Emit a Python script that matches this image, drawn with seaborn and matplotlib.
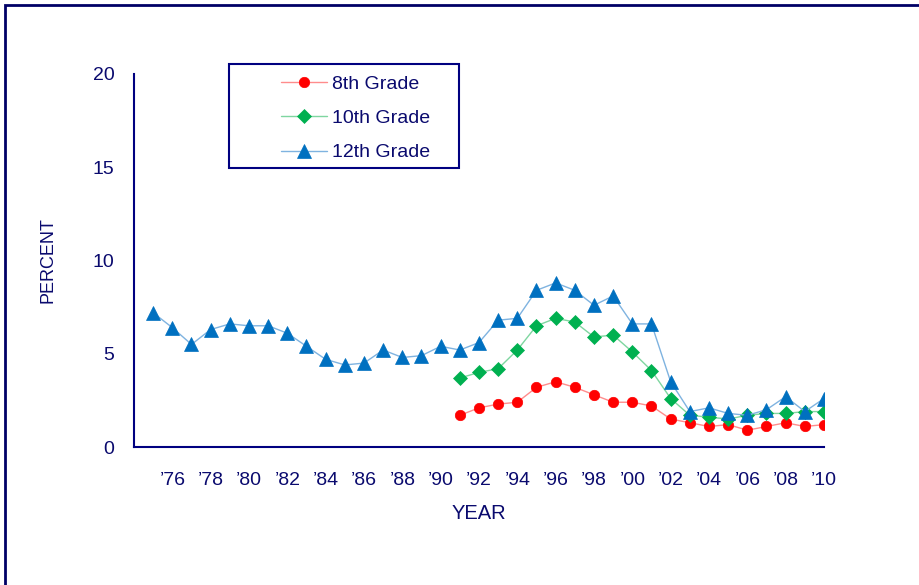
import matplotlib
matplotlib.use("Agg")
import matplotlib.pyplot as plt
import matplotlib.patches as mpatches
import numpy as np
import pandas as pd
import seaborn as sns

# ---- data ----
years_12 = list(range(1975, 2011))
grade12 = [7.2, 6.4, 5.5, 6.3, 6.6, 6.5, 6.5, 6.1, 5.4, 4.7, 4.4, 4.5, 5.2, 4.8,
           4.9, 5.4, 5.2, 5.6, 6.8, 6.9, 8.4, 8.8, 8.4, 7.6, 8.1, 6.6, 6.6, 3.5,
           1.9, 2.1, 1.8, 1.7, 2.0, 2.7, 1.9, 2.6]
years_sec = list(range(1991, 2011))
grade10 = [3.7, 4.0, 4.2, 5.2, 6.5, 6.9, 6.7, 5.9, 6.0, 5.1, 4.1, 2.6, 1.7, 1.6,
           1.5, 1.7, 1.8, 1.8, 1.9, 1.9]
grade8 = [1.7, 2.1, 2.3, 2.4, 3.2, 3.5, 3.2, 2.8, 2.4, 2.4, 2.2, 1.5, 1.3, 1.1,
          1.2, 0.9, 1.1, 1.3, 1.1, 1.2]
series_names = ["8th Grade", "10th Grade", "12th Grade"]
y_ticks = [0, 5, 10, 15, 20]
x_label_years = list(range(1976, 2011, 2))

df8 = pd.DataFrame({"year": years_sec, "pct": grade8})
df10 = pd.DataFrame({"year": years_sec, "pct": grade10})
df12 = pd.DataFrame({"year": years_12, "pct": grade12})

# ---- style ----
sns.set_theme(style="white")
plt.rcParams["font.family"] = ["Liberation Sans", "DejaVu Sans"]
navy = "#0a0a6e"

W, H = 920, 585
fig = plt.figure(figsize=(W / 100, H / 100), dpi=100)
ax = fig.add_axes([134 / W, 1 - 447 / H, 690 / W, 373 / H])

specs = [
    (df8, "#ff8c8c", "#ff0000", "o", 7.5),
    (df10, "#7fd6a0", "#00b050", "D", 6.8),
    (df12, "#7fb3e0", "#0070c0", "^", 10.5),
]
for (d, lc, mc, mk, ms), name in zip(specs, series_names):
    sns.lineplot(data=d, x="year", y="pct", ax=ax, color=lc, linewidth=1.0,
                 marker=mk, markersize=ms, markerfacecolor=mc,
                 markeredgecolor=mc, markeredgewidth=0.5, label=name)

ax.set_xlim(1974, 2010)
ax.set_ylim(0, 20)
ax.set_yticks(y_ticks)
ax.set_yticklabels([str(v) for v in y_ticks])
all_years = list(range(1975, 2011))
ax.set_xticks(all_years)
ax.set_xticklabels(["\u2019" + str(y)[2:] if y in x_label_years else "" for y in all_years])

for s in ["top", "right"]:
    ax.spines[s].set_visible(False)
for s in ["left", "bottom"]:
    ax.spines[s].set_color("#000080")
    ax.spines[s].set_linewidth(1.5)

ax.tick_params(axis="both", direction="in", length=4, width=1,
               color="#a0a0d0", labelcolor=navy, labelsize=14)
ax.tick_params(axis="x", pad=18)
ax.tick_params(axis="y", pad=14)

ax.set_xlabel("YEAR", fontsize=14.5, color=navy)
ax.set_ylabel("PERCENT", fontsize=13, color=navy)
ax.xaxis.set_label_coords(0.5, -0.152)
ax.yaxis.set_label_coords(-0.113, 0.5)

handles, labels = ax.get_legend_handles_labels()
leg = ax.legend(handles, labels, loc="upper left",
                bbox_to_anchor=(281 / W, 1 - 75.5 / H), bbox_transform=fig.transFigure,
                frameon=False, borderpad=0, borderaxespad=0, handlelength=2.35,
                handletextpad=0.28, labelspacing=0.85, fontsize=14)
for t in leg.get_texts():
    t.set_color(navy)

# legend frame
fig.patches.append(mpatches.Rectangle((229 / W, 1 - 168 / H), 230 / W, 104 / H,
                                      transform=fig.transFigure, fill=False,
                                      edgecolor="#000080", linewidth=1.5))
# figure border (top and left visible)
fig.patches.append(mpatches.Rectangle((4.7 / W, -0.1), 1.2, 1.1 - 5 / H,
                                      transform=fig.transFigure, fill=False,
                                      edgecolor="#000066", linewidth=2))

fig.savefig("out.png", dpi=100)
